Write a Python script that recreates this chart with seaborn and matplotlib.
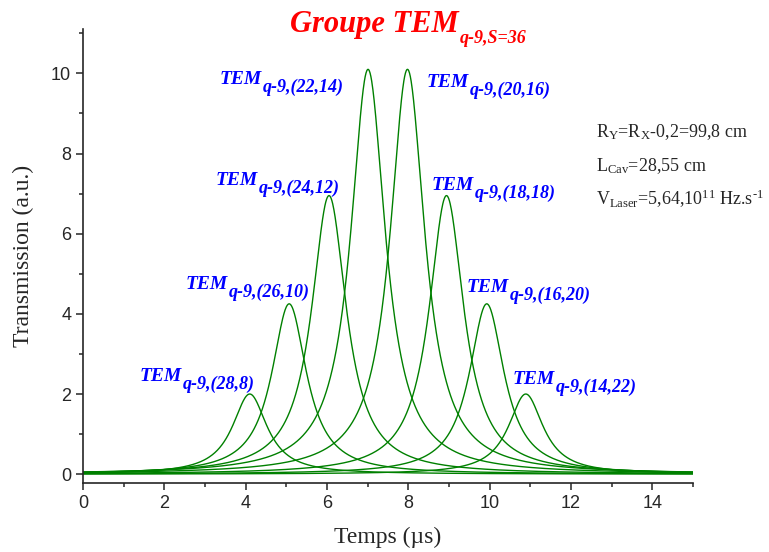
import matplotlib
matplotlib.use('Agg')
import matplotlib.pyplot as plt
from matplotlib.ticker import MultipleLocator
import seaborn as sns
import numpy as np
import pandas as pd

# mode indices, peak positions (us) and peak heights
modes = ['(28,8)', '(26,10)', '(24,12)', '(22,14)', '(20,16)', '(18,18)', '(16,20)', '(14,22)']
centres = [4.10, 5.07, 6.05, 7.01, 7.98, 8.94, 9.93, 10.89]
heights = [2.00, 4.25, 6.95, 10.10, 10.10, 6.95, 4.25, 2.00]
half_width = 0.52  # lorentzian half width at half maximum (us)

# where each TEM label starts (data coords, baseline)
label_x = [1.40, 2.53, 3.27, 3.37, 8.46, 8.58, 9.44, 10.57]
label_y = [2.32, 4.62, 7.21, 9.73, 9.65, 7.09, 4.54, 2.25]

info_lines = [r'$\text{R}_{\text{Y}}\text{=R}_{\text{X}}\text{-0,2=99,8 cm}$',
              r'$\text{L}_{\text{Cav}}\text{=28,55 cm}$',
              r'$\text{V}_{\text{Laser}}\text{=5,64,10}^{\text{11}}\text{ Hz.s}^{\text{-1}}$']

t = np.linspace(0, 15, 1501)
frames = []
for m, c, h in zip(modes, centres, heights):
    frames.append(pd.DataFrame({'t': t,
                                'T': h / (1 + ((t - c) / half_width) ** 2),
                                'mode': m}))
df = pd.concat(frames, ignore_index=True)

sns.set_style('ticks')
plt.rcParams['font.family'] = ['Liberation Sans', 'DejaVu Sans']
plt.rcParams['mathtext.fontset'] = 'custom'
plt.rcParams['mathtext.rm'] = 'Liberation Serif'
plt.rcParams['mathtext.it'] = 'Liberation Serif:italic'

fig, ax = plt.subplots(figsize=(7.69, 5.52), dpi=100)
fig.subplots_adjust(left=0.108, right=0.901, bottom=0.125, top=0.947)

sns.lineplot(data=df, x='t', y='T', hue='mode', palette=['#008000'] * len(modes),
             legend=False, lw=1.0, errorbar=None, ax=ax)

ax.set_xlim(0, 15)
ax.set_ylim(-0.22, 11.1)
ax.xaxis.set_major_locator(MultipleLocator(2))
ax.xaxis.set_minor_locator(MultipleLocator(1))
ax.yaxis.set_major_locator(MultipleLocator(2))
ax.yaxis.set_minor_locator(MultipleLocator(1))
ax.tick_params(which='major', length=5, width=1.1, labelsize=13, direction='out')
ax.tick_params(which='minor', length=3, width=1.1, direction='out')
sns.despine(ax=ax)
for s in ['left', 'bottom']:
    ax.spines[s].set_linewidth(1.2)

ax.set_xlabel('Temps (µs)', family='Liberation Serif', fontsize=17, labelpad=11)
ax.set_ylabel('Transmission (a.u.)', family='Liberation Serif', fontsize=17, labelpad=12)

serif_bi = dict(family='Liberation Serif', style='italic', weight='bold')


def add_sub(txt, sub, color, subsize, drop):
    # subscript glued to the right end of txt
    ax.annotate(sub, xy=(1, 0), xycoords=txt, xytext=(0.5, drop),
                textcoords='offset points', va='bottom', ha='left',
                color=color, fontsize=subsize, annotation_clip=False, **serif_bi)


for m, x, y in zip(modes, label_x, label_y):
    txt = ax.text(x, y, 'TEM', color='blue', fontsize=14, va='baseline', **serif_bi)
    add_sub(txt, 'q-9,' + m, 'blue', 13, -5.5)

ttl = fig.text(290 / 769, 1 - 32 / 552, 'Groupe TEM', color='red', fontsize=22,
               va='baseline', ha='left', **serif_bi)
add_sub(ttl, 'q-9,S=36', 'red', 13, -6)

for i, line in enumerate(info_lines):
    fig.text(596 / 769, 1 - (137 + 34 * i) / 552, line, fontsize=13, va='baseline', ha='left')

fig.savefig('out.png', dpi=100)
